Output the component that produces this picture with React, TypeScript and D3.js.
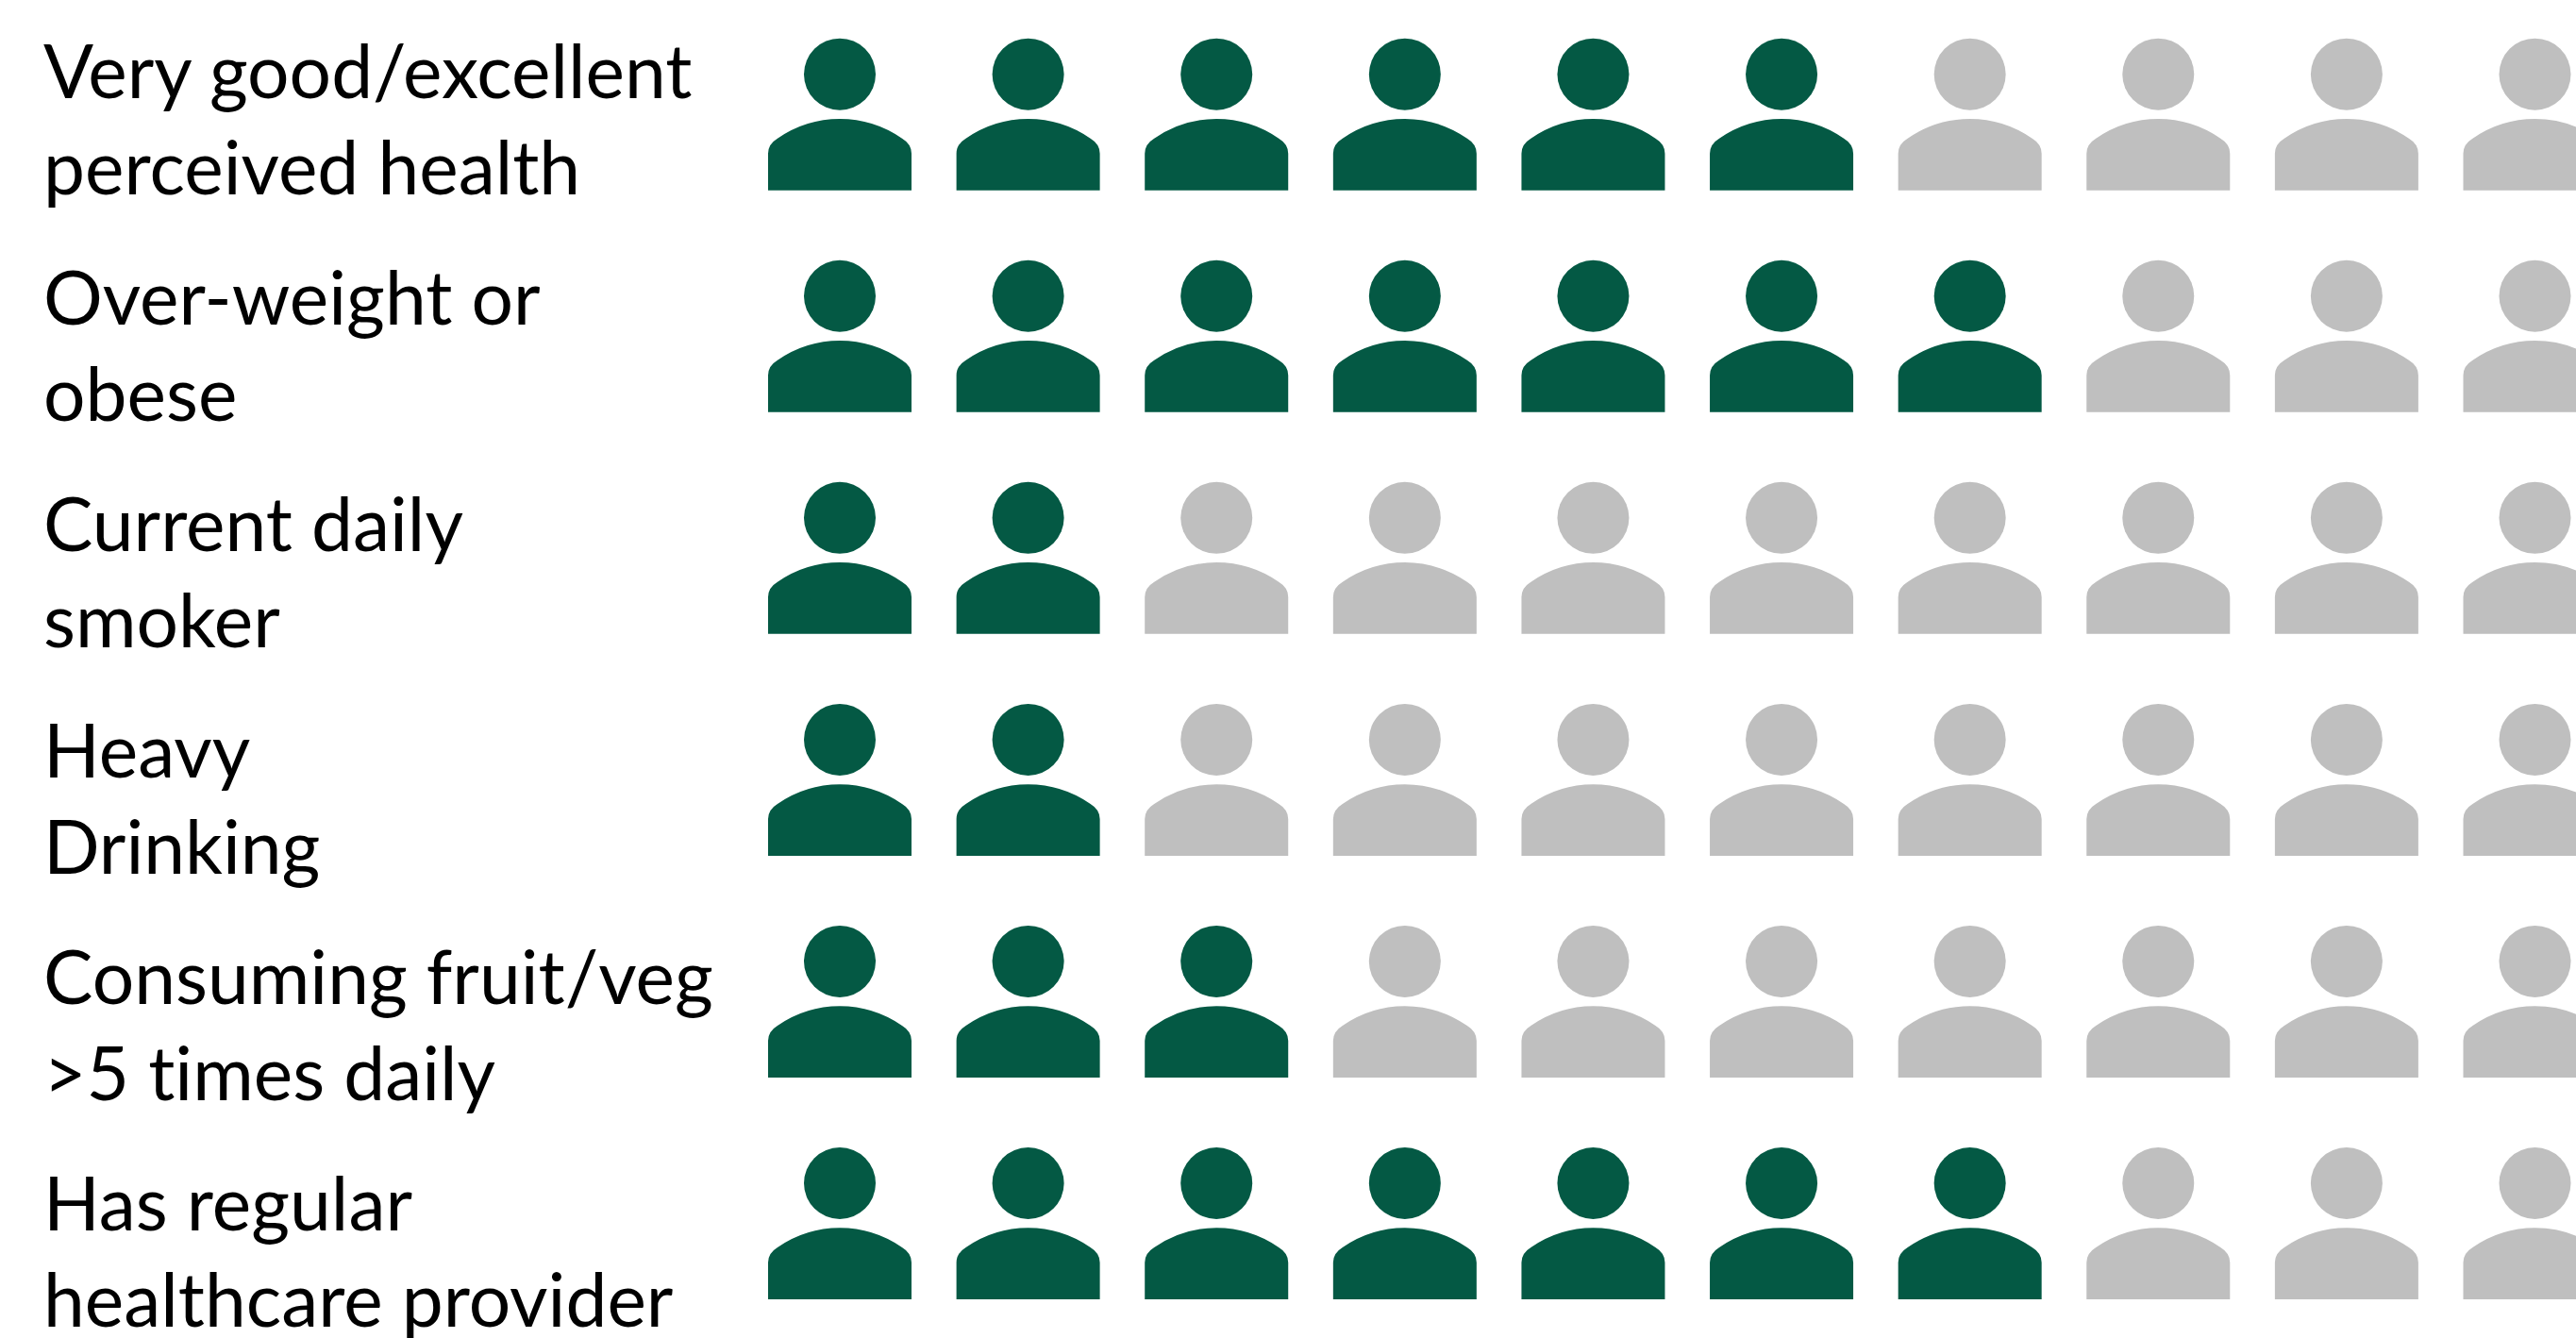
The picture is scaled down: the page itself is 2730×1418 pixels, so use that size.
import React from "react";
import * as d3 from "d3";

const WIDTH = 2730;
const HEIGHT = 1418;

const labelLines = [
  ["Very good/excellent", "perceived health"],
  ["Over-weight or", "obese"],
  ["Current daily", "smoker"],
  ["Heavy", "Drinking"],
  ["Consuming fruit/veg", ">5 times daily"],
  ["Has regular", "healthcare provider"],
];
const filledOutOfTen = [6, 7, 2, 2, 3, 7];
const iconSlots = d3.range(10);
const FILLED = "#045944";
const EMPTY = "#bfbfbf";

const x = d3.scaleLinear().domain([0, 9]).range([890, 2686.5]);
const y = d3.scaleLinear().domain([0, 5]).range([78.7, 1254]);
const labelY = d3.scaleLinear().domain([0, 5]).range([104, 1304]);

const body = d3.path();
body.moveTo(-76, 123);
body.lineTo(-76, 84);
body.quadraticCurveTo(-76, 74, -66, 68);
body.quadraticCurveTo(-36, 47.3, 0, 47.3);
body.quadraticCurveTo(36, 47.3, 66, 68);
body.quadraticCurveTo(76, 74, 76, 84);
body.lineTo(76, 123);
body.closePath();
const bodyPath = body.toString();

export default function App() {
  return (
    <svg
      width={WIDTH}
      height={HEIGHT}
      viewBox={`0 0 ${WIDTH} ${HEIGHT}`}
      style={{ position: "fixed", left: 0, top: 0, background: "#fff" }}
    >
      {labelLines.map((lines, r) => (
        <g key={r}>
          {lines.map((line, i) => (
            <text
              key={i}
              x={46}
              y={labelY(r) + i * 102}
              fontFamily="Lato, sans-serif"
              fontSize={78.5}
              fill="#000"
              style={{ fontVariantLigatures: "none" }}
            >
              {line}
            </text>
          ))}
          {iconSlots.map((c) => (
            <g key={c} transform={`translate(${x(c)},${y(r)})`} fill={c < filledOutOfTen[r] ? FILLED : EMPTY}>
              <circle r={38} />
              <path d={bodyPath} />
            </g>
          ))}
        </g>
      ))}
    </svg>
  );
}
